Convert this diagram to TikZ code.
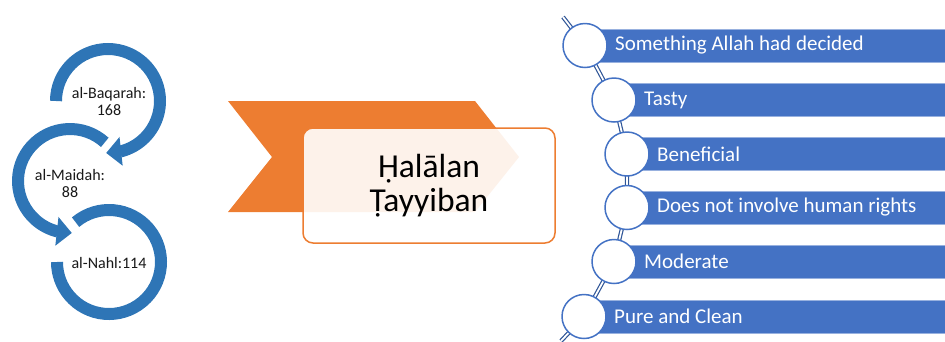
\documentclass[tikz,border=0pt]{standalone}
\usepackage{fontspec}
\setmainfont{Carlito}
\usetikzlibrary{arrows.meta,bending}
\definecolor{arcblue}{HTML}{2E75B6}
\definecolor{barblue}{HTML}{4472C4}
\definecolor{chainblue}{HTML}{2F5597}
\definecolor{orng}{HTML}{ED7D31}
\begin{document}
\begin{tikzpicture}[x=1pt,y=1pt,
  ring/.style={draw=arcblue,line width=12pt},
  ringarrow/.style={ring,-{Triangle[width=28pt,length=15pt,flex]}},
  lbl/.style={font=\fontsize{16}{17}\selectfont,align=center,text=black!90,inner sep=0},
  bar/.style={fill=barblue,draw=barblue!55!white,line width=0.6pt},
  bead/.style={circle,minimum size=44pt,inner sep=0,fill=white,draw=barblue,line width=1.5pt},
  bartext/.style={font=\fontsize{21}{23}\selectfont,text=white,anchor=west,inner sep=0},
  chain/.style={draw=chainblue,double=white,double distance=1.8pt,line width=1.2pt}]
\useasboundingbox (0,0) rectangle (945,-341);
% left circular arrows
\draw[ringarrow] (108,-101) ++(180:52) arc[start angle=180,end angle=-92,radius=52];
\draw[ringarrow] (70,-181) ++(48:52) arc[start angle=48,end angle=272,radius=52];
\draw[ring] (109,-262) ++(130:52) arc[start angle=130,end angle=-180,radius=52];
\node[lbl] (baq) at (109,-101) {al-Baqarah:\\168};
\node[lbl] (mai) at (70,-183) {al-Maidah:\\88};
\node[lbl] (nahl) at (109,-263) {al-Nahl:114};
% center
\fill[orng] (228,-101) -- (475,-101) -- (519,-157) -- (475,-212) -- (228,-212) -- (272,-157) -- cycle;
\node[draw=orng,line width=1.5pt,fill=white,fill opacity=0.9,text opacity=1,
  rounded corners=10pt,minimum width=252pt,minimum height=115pt,
  font=\fontsize{33.5}{34}\selectfont,align=center] (hal) at (429,-185.5) {Ḥalālan\\Ṭayyiban};
% right chain
\coordinate (ctop) at (563,-17);
\coordinate (cbot) at (561,-341);
\foreach \i/\x/\y in {1/585/-45.5,2/614/-100,3/627/-154,4/627/-207.5,5/614/-261.5,6/584/-316.5}
  \coordinate (c\i) at (\x,\y);
\draw[chain] (ctop) -- (c1) -- (c2) -- (c3) -- (c4) -- (c5) -- (c6) -- (cbot);
\foreach \i/\x/\y/\t in {1/585/-45.5/Something Allah had decided,2/614/-100/Tasty,3/627/-154/Beneficial,4/627/-207.5/Does not involve human rights,5/614/-261.5/Moderate,6/584/-316.5/Pure and Clean}{
  \path[bar] (\x,\y+16.5) rectangle (945,\y-16.5);
  \node[bead] (b\i) at (c\i) {};
  \node[bartext] (t\i) at (\x+30,\y) {\t};
}
\end{tikzpicture}
\end{document}
